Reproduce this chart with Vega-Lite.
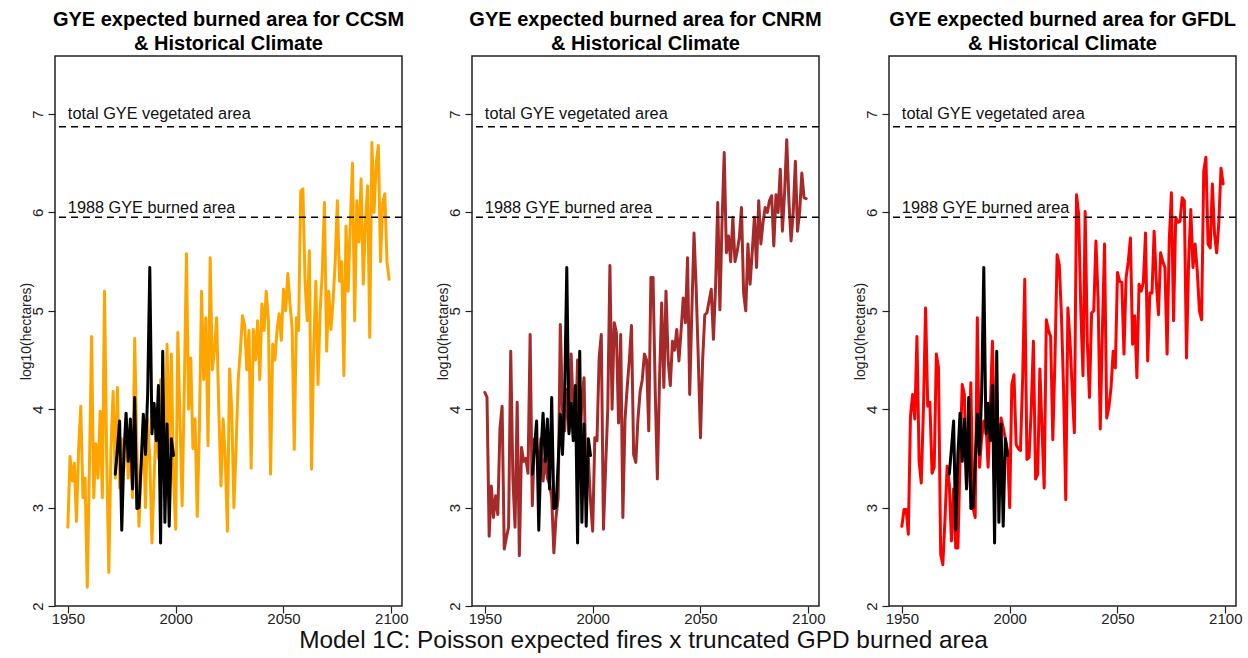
{
"$schema":"https://vega.github.io/schema/vega-lite/v6.json",
"padding":{"left":18,"top":9,"right":5,"bottom":2},
"background":"white",
"title":{"text":"Model 1C: Poisson expected fires x truncated GPD burned area","orient":"bottom","anchor":"middle","fontSize":24.4,"fontWeight":"normal","color":"#111","offset":2,"dx":13},
"config":{"font":"Liberation Sans","view":{"stroke":"#222","strokeWidth":1.5},
"axis":{"grid":false,"domain":false,"tickColor":"#222","tickSize":7,"tickWidth":1.2,"labelFontSize":15,"labelColor":"#222","titleFontSize":14,"titleFontWeight":"normal","titleColor":"#222"},
"title":{"fontSize":20,"fontWeight":"bold","color":"black","offset":2,"lineHeight":24},
"concat":{"spacing":26,"bounds":"flush"}},
"datasets":{
"hist":[{"year":1972,"value":3.34},{"year":1973,"value":3.6},{"year":1974,"value":3.88},{"year":1975,"value":2.77},{"year":1976,"value":3.55},{"year":1977,"value":3.96},{"year":1978,"value":3.47},{"year":1979,"value":3.9},{"year":1980,"value":3.19},{"year":1981,"value":4.12},{"year":1982,"value":2.99},{"year":1983,"value":3.0},{"year":1984,"value":3.45},{"year":1985,"value":3.95},{"year":1986,"value":3.54},{"year":1987,"value":4.15},{"year":1988,"value":5.44},{"year":1989,"value":3.75},{"year":1990,"value":4.06},{"year":1991,"value":3.68},{"year":1992,"value":4.24},{"year":1993,"value":2.64},{"year":1994,"value":4.59},{"year":1995,"value":2.85},{"year":1996,"value":3.85},{"year":1997,"value":2.81},{"year":1998,"value":3.7},{"year":1999,"value":3.53}],
"refs":[{"label":"total GYE vegetated area","level":6.87,"textlevel":7.0},{"label":"1988 GYE burned area","level":5.95,"textlevel":6.05}],
"proj":[
{"model":"CCSM","year":1950,"value":2.8},{"model":"CCSM","year":1951,"value":3.52},{"model":"CCSM","year":1952,"value":3.27},{"model":"CCSM","year":1953,"value":3.45},{"model":"CCSM","year":1954,"value":2.86},{"model":"CCSM","year":1955,"value":3.6},{"model":"CCSM","year":1956,"value":4.03},{"model":"CCSM","year":1957,"value":3.1},{"model":"CCSM","year":1958,"value":3.3},{"model":"CCSM","year":1959,"value":2.19},
{"model":"CCSM","year":1960,"value":3.4},{"model":"CCSM","year":1961,"value":4.74},{"model":"CCSM","year":1962,"value":3.1},{"model":"CCSM","year":1963,"value":3.65},{"model":"CCSM","year":1964,"value":3.3},{"model":"CCSM","year":1965,"value":3.98},{"model":"CCSM","year":1966,"value":3.1},{"model":"CCSM","year":1967,"value":5.2},{"model":"CCSM","year":1968,"value":3.5},{"model":"CCSM","year":1969,"value":2.34},
{"model":"CCSM","year":1970,"value":3.6},{"model":"CCSM","year":1971,"value":4.18},{"model":"CCSM","year":1972,"value":3.3},{"model":"CCSM","year":1973,"value":4.22},{"model":"CCSM","year":1974,"value":3.2},{"model":"CCSM","year":1975,"value":3.7},{"model":"CCSM","year":1976,"value":3.4},{"model":"CCSM","year":1977,"value":3.9},{"model":"CCSM","year":1978,"value":3.3},{"model":"CCSM","year":1979,"value":3.6},
{"model":"CCSM","year":1980,"value":3.1},{"model":"CCSM","year":1981,"value":4.72},{"model":"CCSM","year":1982,"value":3.6},{"model":"CCSM","year":1983,"value":2.81},{"model":"CCSM","year":1984,"value":3.4},{"model":"CCSM","year":1985,"value":3.8},{"model":"CCSM","year":1986,"value":3.0},{"model":"CCSM","year":1987,"value":3.9},{"model":"CCSM","year":1988,"value":3.5},{"model":"CCSM","year":1989,"value":2.64},
{"model":"CCSM","year":1990,"value":3.3},{"model":"CCSM","year":1991,"value":3.9},{"model":"CCSM","year":1992,"value":3.5},{"model":"CCSM","year":1993,"value":4.3},{"model":"CCSM","year":1994,"value":3.7},{"model":"CCSM","year":1995,"value":3.2},{"model":"CCSM","year":1996,"value":4.66},{"model":"CCSM","year":1997,"value":3.6},{"model":"CCSM","year":1998,"value":4.56},{"model":"CCSM","year":1999,"value":3.3},
{"model":"CCSM","year":2000,"value":2.78},{"model":"CCSM","year":2001,"value":4.78},{"model":"CCSM","year":2002,"value":3.9},{"model":"CCSM","year":2003,"value":3.02},{"model":"CCSM","year":2004,"value":4.2},{"model":"CCSM","year":2005,"value":5.58},{"model":"CCSM","year":2006,"value":4.0},{"model":"CCSM","year":2007,"value":4.52},{"model":"CCSM","year":2008,"value":3.6},{"model":"CCSM","year":2009,"value":3.9},
{"model":"CCSM","year":2010,"value":2.91},{"model":"CCSM","year":2011,"value":3.8},{"model":"CCSM","year":2012,"value":5.2},{"model":"CCSM","year":2013,"value":4.3},{"model":"CCSM","year":2014,"value":4.93},{"model":"CCSM","year":2015,"value":3.63},{"model":"CCSM","year":2016,"value":5.54},{"model":"CCSM","year":2017,"value":4.4},{"model":"CCSM","year":2018,"value":4.6},{"model":"CCSM","year":2019,"value":4.93},
{"model":"CCSM","year":2020,"value":4.0},{"model":"CCSM","year":2021,"value":3.22},{"model":"CCSM","year":2022,"value":3.9},{"model":"CCSM","year":2023,"value":3.5},{"model":"CCSM","year":2024,"value":2.76},{"model":"CCSM","year":2025,"value":4.41},{"model":"CCSM","year":2026,"value":4.0},{"model":"CCSM","year":2027,"value":3.0},{"model":"CCSM","year":2028,"value":3.6},{"model":"CCSM","year":2029,"value":4.3},
{"model":"CCSM","year":2030,"value":4.6},{"model":"CCSM","year":2031,"value":4.95},{"model":"CCSM","year":2032,"value":4.85},{"model":"CCSM","year":2033,"value":4.4},{"model":"CCSM","year":2034,"value":4.8},{"model":"CCSM","year":2035,"value":3.4},{"model":"CCSM","year":2036,"value":4.81},{"model":"CCSM","year":2037,"value":4.5},{"model":"CCSM","year":2038,"value":4.9},{"model":"CCSM","year":2039,"value":4.3},
{"model":"CCSM","year":2040,"value":5.07},{"model":"CCSM","year":2041,"value":4.8},{"model":"CCSM","year":2042,"value":5.2},{"model":"CCSM","year":2043,"value":4.9},{"model":"CCSM","year":2044,"value":3.34},{"model":"CCSM","year":2045,"value":4.66},{"model":"CCSM","year":2046,"value":4.5},{"model":"CCSM","year":2047,"value":4.8},{"model":"CCSM","year":2048,"value":4.97},{"model":"CCSM","year":2049,"value":4.7},
{"model":"CCSM","year":2050,"value":5.22},{"model":"CCSM","year":2051,"value":5.0},{"model":"CCSM","year":2052,"value":5.38},{"model":"CCSM","year":2053,"value":5.07},{"model":"CCSM","year":2054,"value":4.83},{"model":"CCSM","year":2055,"value":3.59},{"model":"CCSM","year":2056,"value":4.93},{"model":"CCSM","year":2057,"value":4.8},{"model":"CCSM","year":2058,"value":6.22},{"model":"CCSM","year":2059,"value":6.24},
{"model":"CCSM","year":2060,"value":5.3},{"model":"CCSM","year":2061,"value":4.9},{"model":"CCSM","year":2062,"value":5.61},{"model":"CCSM","year":2063,"value":3.39},{"model":"CCSM","year":2064,"value":4.6},{"model":"CCSM","year":2065,"value":5.3},{"model":"CCSM","year":2066,"value":4.25},{"model":"CCSM","year":2067,"value":5.0},{"model":"CCSM","year":2068,"value":5.4},{"model":"CCSM","year":2069,"value":6.1},
{"model":"CCSM","year":2070,"value":4.59},{"model":"CCSM","year":2071,"value":5.2},{"model":"CCSM","year":2072,"value":4.81},{"model":"CCSM","year":2073,"value":5.1},{"model":"CCSM","year":2074,"value":5.5},{"model":"CCSM","year":2075,"value":6.12},{"model":"CCSM","year":2076,"value":5.3},{"model":"CCSM","year":2077,"value":5.5},{"model":"CCSM","year":2078,"value":4.34},{"model":"CCSM","year":2079,"value":5.86},
{"model":"CCSM","year":2080,"value":5.2},{"model":"CCSM","year":2081,"value":5.9},{"model":"CCSM","year":2082,"value":6.5},{"model":"CCSM","year":2083,"value":4.9},{"model":"CCSM","year":2084,"value":6.12},{"model":"CCSM","year":2085,"value":5.7},{"model":"CCSM","year":2086,"value":6.34},{"model":"CCSM","year":2087,"value":5.27},{"model":"CCSM","year":2088,"value":5.9},{"model":"CCSM","year":2089,"value":6.27},
{"model":"CCSM","year":2090,"value":4.73},{"model":"CCSM","year":2091,"value":6.71},{"model":"CCSM","year":2092,"value":6.0},{"model":"CCSM","year":2093,"value":6.5},{"model":"CCSM","year":2094,"value":6.68},{"model":"CCSM","year":2095,"value":5.5},{"model":"CCSM","year":2096,"value":6.1},{"model":"CCSM","year":2097,"value":6.19},{"model":"CCSM","year":2098,"value":5.5},{"model":"CCSM","year":2099,"value":5.32},
{"model":"CNRM","year":1950,"value":4.17},{"model":"CNRM","year":1951,"value":4.12},{"model":"CNRM","year":1952,"value":2.71},{"model":"CNRM","year":1953,"value":3.22},{"model":"CNRM","year":1954,"value":2.9},{"model":"CNRM","year":1955,"value":3.12},{"model":"CNRM","year":1956,"value":2.93},{"model":"CNRM","year":1957,"value":3.8},{"model":"CNRM","year":1958,"value":4.03},{"model":"CNRM","year":1959,"value":2.58},
{"model":"CNRM","year":1960,"value":2.7},{"model":"CNRM","year":1961,"value":2.8},{"model":"CNRM","year":1962,"value":4.59},{"model":"CNRM","year":1963,"value":3.3},{"model":"CNRM","year":1964,"value":2.8},{"model":"CNRM","year":1965,"value":4.07},{"model":"CNRM","year":1966,"value":2.51},{"model":"CNRM","year":1967,"value":3.61},{"model":"CNRM","year":1968,"value":3.47},{"model":"CNRM","year":1969,"value":3.5},
{"model":"CNRM","year":1970,"value":3.35},{"model":"CNRM","year":1971,"value":4.76},{"model":"CNRM","year":1972,"value":3.02},{"model":"CNRM","year":1973,"value":3.7},{"model":"CNRM","year":1974,"value":3.6},{"model":"CNRM","year":1975,"value":3.44},{"model":"CNRM","year":1976,"value":3.7},{"model":"CNRM","year":1977,"value":3.27},{"model":"CNRM","year":1978,"value":3.5},{"model":"CNRM","year":1979,"value":3.3},
{"model":"CNRM","year":1980,"value":3.24},{"model":"CNRM","year":1981,"value":3.1},{"model":"CNRM","year":1982,"value":2.54},{"model":"CNRM","year":1983,"value":2.9},{"model":"CNRM","year":1984,"value":3.1},{"model":"CNRM","year":1985,"value":4.86},{"model":"CNRM","year":1986,"value":4.0},{"model":"CNRM","year":1987,"value":3.78},{"model":"CNRM","year":1988,"value":4.2},{"model":"CNRM","year":1989,"value":3.78},
{"model":"CNRM","year":1990,"value":4.56},{"model":"CNRM","year":1991,"value":4.0},{"model":"CNRM","year":1992,"value":3.71},{"model":"CNRM","year":1993,"value":4.5},{"model":"CNRM","year":1994,"value":3.54},{"model":"CNRM","year":1995,"value":4.1},{"model":"CNRM","year":1996,"value":4.32},{"model":"CNRM","year":1997,"value":3.13},{"model":"CNRM","year":1998,"value":3.5},{"model":"CNRM","year":1999,"value":3.07},
{"model":"CNRM","year":2000,"value":2.76},{"model":"CNRM","year":2001,"value":3.71},{"model":"CNRM","year":2002,"value":3.68},{"model":"CNRM","year":2003,"value":4.52},{"model":"CNRM","year":2004,"value":4.76},{"model":"CNRM","year":2005,"value":2.78},{"model":"CNRM","year":2006,"value":3.41},{"model":"CNRM","year":2007,"value":4.0},{"model":"CNRM","year":2008,"value":5.46},{"model":"CNRM","year":2009,"value":4.0},
{"model":"CNRM","year":2010,"value":4.88},{"model":"CNRM","year":2011,"value":4.78},{"model":"CNRM","year":2012,"value":3.86},{"model":"CNRM","year":2013,"value":4.76},{"model":"CNRM","year":2014,"value":2.9},{"model":"CNRM","year":2015,"value":3.9},{"model":"CNRM","year":2016,"value":4.22},{"model":"CNRM","year":2017,"value":4.5},{"model":"CNRM","year":2018,"value":4.85},{"model":"CNRM","year":2019,"value":3.54},
{"model":"CNRM","year":2020,"value":3.46},{"model":"CNRM","year":2021,"value":3.9},{"model":"CNRM","year":2022,"value":4.18},{"model":"CNRM","year":2023,"value":4.3},{"model":"CNRM","year":2024,"value":4.56},{"model":"CNRM","year":2025,"value":4.5},{"model":"CNRM","year":2026,"value":3.78},{"model":"CNRM","year":2027,"value":5.34},{"model":"CNRM","year":2028,"value":5.34},{"model":"CNRM","year":2029,"value":4.2},
{"model":"CNRM","year":2030,"value":3.29},{"model":"CNRM","year":2031,"value":4.3},{"model":"CNRM","year":2032,"value":5.08},{"model":"CNRM","year":2033,"value":4.22},{"model":"CNRM","year":2034,"value":5.2},{"model":"CNRM","year":2035,"value":4.5},{"model":"CNRM","year":2036,"value":4.24},{"model":"CNRM","year":2037,"value":4.69},{"model":"CNRM","year":2038,"value":4.6},{"model":"CNRM","year":2039,"value":4.81},
{"model":"CNRM","year":2040,"value":4.49},{"model":"CNRM","year":2041,"value":4.8},{"model":"CNRM","year":2042,"value":5.13},{"model":"CNRM","year":2043,"value":4.88},{"model":"CNRM","year":2044,"value":5.54},{"model":"CNRM","year":2045,"value":4.15},{"model":"CNRM","year":2046,"value":5.0},{"model":"CNRM","year":2047,"value":5.79},{"model":"CNRM","year":2048,"value":5.23},{"model":"CNRM","year":2049,"value":4.5},
{"model":"CNRM","year":2050,"value":3.71},{"model":"CNRM","year":2051,"value":4.5},{"model":"CNRM","year":2052,"value":4.96},{"model":"CNRM","year":2053,"value":4.98},{"model":"CNRM","year":2054,"value":5.1},{"model":"CNRM","year":2055,"value":5.22},{"model":"CNRM","year":2056,"value":4.71},{"model":"CNRM","year":2057,"value":5.25},{"model":"CNRM","year":2058,"value":6.1},{"model":"CNRM","year":2059,"value":5.01},
{"model":"CNRM","year":2060,"value":5.9},{"model":"CNRM","year":2061,"value":6.61},{"model":"CNRM","year":2062,"value":5.59},{"model":"CNRM","year":2063,"value":5.76},{"model":"CNRM","year":2064,"value":5.5},{"model":"CNRM","year":2065,"value":5.95},{"model":"CNRM","year":2066,"value":5.5},{"model":"CNRM","year":2067,"value":5.6},{"model":"CNRM","year":2068,"value":5.74},{"model":"CNRM","year":2069,"value":6.05},
{"model":"CNRM","year":2070,"value":5.18},{"model":"CNRM","year":2071,"value":5.0},{"model":"CNRM","year":2072,"value":5.68},{"model":"CNRM","year":2073,"value":5.27},{"model":"CNRM","year":2074,"value":5.6},{"model":"CNRM","year":2075,"value":5.95},{"model":"CNRM","year":2076,"value":5.44},{"model":"CNRM","year":2077,"value":6.12},{"model":"CNRM","year":2078,"value":5.68},{"model":"CNRM","year":2079,"value":5.9},
{"model":"CNRM","year":2080,"value":6.05},{"model":"CNRM","year":2081,"value":6.0},{"model":"CNRM","year":2082,"value":6.12},{"model":"CNRM","year":2083,"value":6.17},{"model":"CNRM","year":2084,"value":5.66},{"model":"CNRM","year":2085,"value":6.18},{"model":"CNRM","year":2086,"value":6.0},{"model":"CNRM","year":2087,"value":6.44},{"model":"CNRM","year":2088,"value":5.81},{"model":"CNRM","year":2089,"value":6.2},
{"model":"CNRM","year":2090,"value":6.74},{"model":"CNRM","year":2091,"value":6.12},{"model":"CNRM","year":2092,"value":5.71},{"model":"CNRM","year":2093,"value":6.0},{"model":"CNRM","year":2094,"value":6.52},{"model":"CNRM","year":2095,"value":5.81},{"model":"CNRM","year":2096,"value":6.01},{"model":"CNRM","year":2097,"value":6.4},{"model":"CNRM","year":2098,"value":6.15},{"model":"CNRM","year":2099,"value":6.14},
{"model":"GFDL","year":1950,"value":2.81},{"model":"GFDL","year":1951,"value":2.98},{"model":"GFDL","year":1952,"value":2.98},{"model":"GFDL","year":1953,"value":2.73},{"model":"GFDL","year":1954,"value":3.93},{"model":"GFDL","year":1955,"value":4.15},{"model":"GFDL","year":1956,"value":3.9},{"model":"GFDL","year":1957,"value":4.74},{"model":"GFDL","year":1958,"value":3.47},{"model":"GFDL","year":1959,"value":3.25},
{"model":"GFDL","year":1960,"value":4.0},{"model":"GFDL","year":1961,"value":5.03},{"model":"GFDL","year":1962,"value":4.03},{"model":"GFDL","year":1963,"value":4.07},{"model":"GFDL","year":1964,"value":3.35},{"model":"GFDL","year":1965,"value":3.41},{"model":"GFDL","year":1966,"value":4.56},{"model":"GFDL","year":1967,"value":4.42},{"model":"GFDL","year":1968,"value":2.53},{"model":"GFDL","year":1969,"value":2.42},
{"model":"GFDL","year":1970,"value":2.88},{"model":"GFDL","year":1971,"value":3.42},{"model":"GFDL","year":1972,"value":3.24},{"model":"GFDL","year":1973,"value":2.66},{"model":"GFDL","year":1974,"value":3.19},{"model":"GFDL","year":1975,"value":2.59},{"model":"GFDL","year":1976,"value":2.59},{"model":"GFDL","year":1977,"value":3.5},{"model":"GFDL","year":1978,"value":4.25},{"model":"GFDL","year":1979,"value":4.15},
{"model":"GFDL","year":1980,"value":3.2},{"model":"GFDL","year":1981,"value":3.6},{"model":"GFDL","year":1982,"value":4.27},{"model":"GFDL","year":1983,"value":3.0},{"model":"GFDL","year":1984,"value":2.9},{"model":"GFDL","year":1985,"value":4.93},{"model":"GFDL","year":1986,"value":3.41},{"model":"GFDL","year":1987,"value":3.7},{"model":"GFDL","year":1988,"value":3.88},{"model":"GFDL","year":1989,"value":3.88},
{"model":"GFDL","year":1990,"value":3.41},{"model":"GFDL","year":1991,"value":4.0},{"model":"GFDL","year":1992,"value":4.69},{"model":"GFDL","year":1993,"value":3.69},{"model":"GFDL","year":1994,"value":4.1},{"model":"GFDL","year":1995,"value":3.41},{"model":"GFDL","year":1996,"value":3.91},{"model":"GFDL","year":1997,"value":3.81},{"model":"GFDL","year":1998,"value":3.7},{"model":"GFDL","year":1999,"value":3.58},
{"model":"GFDL","year":2000,"value":3.0},{"model":"GFDL","year":2001,"value":4.25},{"model":"GFDL","year":2002,"value":4.35},{"model":"GFDL","year":2003,"value":3.64},{"model":"GFDL","year":2004,"value":3.6},{"model":"GFDL","year":2005,"value":3.58},{"model":"GFDL","year":2006,"value":4.3},{"model":"GFDL","year":2007,"value":5.32},{"model":"GFDL","year":2008,"value":3.49},{"model":"GFDL","year":2009,"value":3.51},
{"model":"GFDL","year":2010,"value":4.0},{"model":"GFDL","year":2011,"value":4.69},{"model":"GFDL","year":2012,"value":3.29},{"model":"GFDL","year":2013,"value":3.34},{"model":"GFDL","year":2014,"value":4.41},{"model":"GFDL","year":2015,"value":3.8},{"model":"GFDL","year":2016,"value":3.2},{"model":"GFDL","year":2017,"value":4.91},{"model":"GFDL","year":2018,"value":4.8},{"model":"GFDL","year":2019,"value":4.74},
{"model":"GFDL","year":2020,"value":3.69},{"model":"GFDL","year":2021,"value":4.5},{"model":"GFDL","year":2022,"value":5.57},{"model":"GFDL","year":2023,"value":5.47},{"model":"GFDL","year":2024,"value":4.96},{"model":"GFDL","year":2025,"value":4.2},{"model":"GFDL","year":2026,"value":3.08},{"model":"GFDL","year":2027,"value":5.03},{"model":"GFDL","year":2028,"value":4.69},{"model":"GFDL","year":2029,"value":4.2},
{"model":"GFDL","year":2030,"value":3.76},{"model":"GFDL","year":2031,"value":6.18},{"model":"GFDL","year":2032,"value":5.98},{"model":"GFDL","year":2033,"value":5.0},{"model":"GFDL","year":2034,"value":4.34},{"model":"GFDL","year":2035,"value":6.01},{"model":"GFDL","year":2036,"value":4.69},{"model":"GFDL","year":2037,"value":4.12},{"model":"GFDL","year":2038,"value":4.98},{"model":"GFDL","year":2039,"value":5.0},
{"model":"GFDL","year":2040,"value":5.71},{"model":"GFDL","year":2041,"value":5.13},{"model":"GFDL","year":2042,"value":3.8},{"model":"GFDL","year":2043,"value":4.8},{"model":"GFDL","year":2044,"value":5.68},{"model":"GFDL","year":2045,"value":3.91},{"model":"GFDL","year":2046,"value":4.02},{"model":"GFDL","year":2047,"value":4.22},{"model":"GFDL","year":2048,"value":4.59},{"model":"GFDL","year":2049,"value":4.42},
{"model":"GFDL","year":2050,"value":5.39},{"model":"GFDL","year":2051,"value":5.3},{"model":"GFDL","year":2052,"value":5.29},{"model":"GFDL","year":2053,"value":4.56},{"model":"GFDL","year":2054,"value":5.34},{"model":"GFDL","year":2055,"value":5.5},{"model":"GFDL","year":2056,"value":5.74},{"model":"GFDL","year":2057,"value":4.66},{"model":"GFDL","year":2058,"value":4.95},{"model":"GFDL","year":2059,"value":4.32},
{"model":"GFDL","year":2060,"value":5.27},{"model":"GFDL","year":2061,"value":5.2},{"model":"GFDL","year":2062,"value":5.29},{"model":"GFDL","year":2063,"value":5.79},{"model":"GFDL","year":2064,"value":4.49},{"model":"GFDL","year":2065,"value":5.18},{"model":"GFDL","year":2066,"value":5.18},{"model":"GFDL","year":2067,"value":5.81},{"model":"GFDL","year":2068,"value":5.3},{"model":"GFDL","year":2069,"value":4.96},
{"model":"GFDL","year":2070,"value":5.59},{"model":"GFDL","year":2071,"value":5.5},{"model":"GFDL","year":2072,"value":5.44},{"model":"GFDL","year":2073,"value":4.56},{"model":"GFDL","year":2074,"value":5.71},{"model":"GFDL","year":2075,"value":6.2},{"model":"GFDL","year":2076,"value":4.9},{"model":"GFDL","year":2077,"value":5.95},{"model":"GFDL","year":2078,"value":5.9},{"model":"GFDL","year":2079,"value":5.91},
{"model":"GFDL","year":2080,"value":6.15},{"model":"GFDL","year":2081,"value":6.12},{"model":"GFDL","year":2082,"value":4.52},{"model":"GFDL","year":2083,"value":5.51},{"model":"GFDL","year":2084,"value":6.03},{"model":"GFDL","year":2085,"value":5.44},{"model":"GFDL","year":2086,"value":5.68},{"model":"GFDL","year":2087,"value":5.4},{"model":"GFDL","year":2088,"value":5.0},{"model":"GFDL","year":2089,"value":4.91},
{"model":"GFDL","year":2090,"value":6.42},{"model":"GFDL","year":2091,"value":6.56},{"model":"GFDL","year":2092,"value":5.68},{"model":"GFDL","year":2093,"value":5.64},{"model":"GFDL","year":2094,"value":6.29},{"model":"GFDL","year":2095,"value":5.78},{"model":"GFDL","year":2096,"value":5.59},{"model":"GFDL","year":2097,"value":5.9},{"model":"GFDL","year":2098,"value":6.45},{"model":"GFDL","year":2099,"value":6.29}
]},
"hconcat":[
{"width":347,"height":550,"title":{"text":["GYE expected burned area for CCSM","& Historical Climate"]},
"layer":[
{"data":{"name":"proj"},"transform":[{"filter":"datum.model === 'CCSM'"}],"mark":{"type":"line","color":"#FFA500","strokeWidth":3,"strokeJoin":"round","strokeCap":"round"},
"encoding":{"x":{"field":"year","type":"quantitative","scale":{"domain":[1944.04,2104.96],"nice":false,"zero":false},"axis":{"values":[1950,2000,2050,2100],"format":"d","title":null,"labelPadding":-2}},
"y":{"field":"value","type":"quantitative","scale":{"domain":[2,7.59],"nice":false,"zero":false},"axis":{"values":[2,3,4,5,6,7],"format":"d","title":"log10(hectares)","labelAngle":-90,"labelAlign":"center","labelBaseline":"bottom","labelPadding":3,"titlePadding":-3}}}},
{"data":{"name":"hist"},"mark":{"type":"line","color":"black","strokeWidth":3,"strokeJoin":"round","strokeCap":"round"},"encoding":{"x":{"field":"year","type":"quantitative"},"y":{"field":"value","type":"quantitative"}}},
{"data":{"name":"refs"},"mark":{"type":"rule","color":"black","strokeWidth":1.5,"strokeDash":[7,5]},"encoding":{"y":{"field":"level","type":"quantitative"}}},
{"data":{"name":"refs"},"mark":{"type":"text","align":"left","baseline":"middle","fontSize":16.3,"color":"#111"},"encoding":{"x":{"datum":1950,"type":"quantitative"},"y":{"field":"textlevel","type":"quantitative"},"text":{"field":"label"}}}
]},
{"width":347,"height":550,"title":{"text":["GYE expected burned area for CNRM","& Historical Climate"]},
"layer":[
{"data":{"name":"proj"},"transform":[{"filter":"datum.model === 'CNRM'"}],"mark":{"type":"line","color":"#A52A2A","strokeWidth":3,"strokeJoin":"round","strokeCap":"round"},
"encoding":{"x":{"field":"year","type":"quantitative","scale":{"domain":[1944.04,2104.96],"nice":false,"zero":false},"axis":{"values":[1950,2000,2050,2100],"format":"d","title":null,"labelPadding":-2}},
"y":{"field":"value","type":"quantitative","scale":{"domain":[2,7.59],"nice":false,"zero":false},"axis":{"values":[2,3,4,5,6,7],"format":"d","title":"log10(hectares)","labelAngle":-90,"labelAlign":"center","labelBaseline":"bottom","labelPadding":3,"titlePadding":-3}}}},
{"data":{"name":"hist"},"mark":{"type":"line","color":"black","strokeWidth":3,"strokeJoin":"round","strokeCap":"round"},"encoding":{"x":{"field":"year","type":"quantitative"},"y":{"field":"value","type":"quantitative"}}},
{"data":{"name":"refs"},"mark":{"type":"rule","color":"black","strokeWidth":1.5,"strokeDash":[7,5]},"encoding":{"y":{"field":"level","type":"quantitative"}}},
{"data":{"name":"refs"},"mark":{"type":"text","align":"left","baseline":"middle","fontSize":16.3,"color":"#111"},"encoding":{"x":{"datum":1950,"type":"quantitative"},"y":{"field":"textlevel","type":"quantitative"},"text":{"field":"label"}}}
]},
{"width":347,"height":550,"title":{"text":["GYE expected burned area for GFDL","& Historical Climate"]},
"layer":[
{"data":{"name":"proj"},"transform":[{"filter":"datum.model === 'GFDL'"}],"mark":{"type":"line","color":"#FF0000","strokeWidth":3,"strokeJoin":"round","strokeCap":"round"},
"encoding":{"x":{"field":"year","type":"quantitative","scale":{"domain":[1944.04,2104.96],"nice":false,"zero":false},"axis":{"values":[1950,2000,2050,2100],"format":"d","title":null,"labelPadding":-2}},
"y":{"field":"value","type":"quantitative","scale":{"domain":[2,7.59],"nice":false,"zero":false},"axis":{"values":[2,3,4,5,6,7],"format":"d","title":"log10(hectares)","labelAngle":-90,"labelAlign":"center","labelBaseline":"bottom","labelPadding":3,"titlePadding":-3}}}},
{"data":{"name":"hist"},"mark":{"type":"line","color":"black","strokeWidth":3,"strokeJoin":"round","strokeCap":"round"},"encoding":{"x":{"field":"year","type":"quantitative"},"y":{"field":"value","type":"quantitative"}}},
{"data":{"name":"refs"},"mark":{"type":"rule","color":"black","strokeWidth":1.5,"strokeDash":[7,5]},"encoding":{"y":{"field":"level","type":"quantitative"}}},
{"data":{"name":"refs"},"mark":{"type":"text","align":"left","baseline":"middle","fontSize":16.3,"color":"#111"},"encoding":{"x":{"datum":1950,"type":"quantitative"},"y":{"field":"textlevel","type":"quantitative"},"text":{"field":"label"}}}
]}
]
}
